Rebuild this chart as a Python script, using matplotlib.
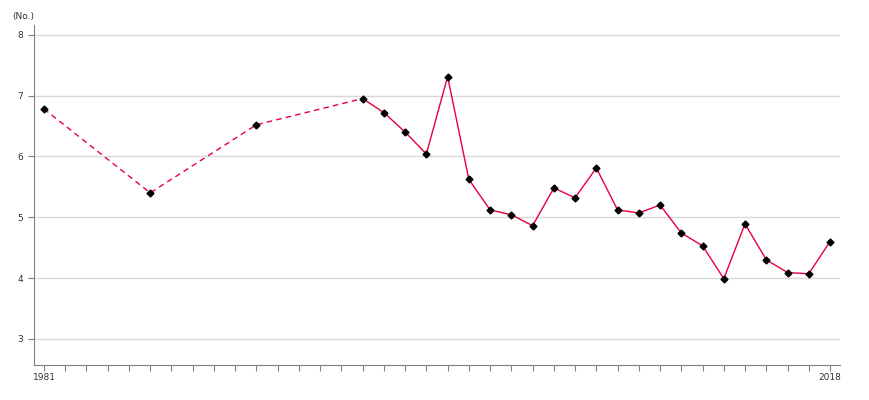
import matplotlib
matplotlib.use("Agg")
import matplotlib.pyplot as plt

years = [1981, 1986, 1991, 1996, 1997, 1998, 1999, 2000, 2001, 2002, 2003,
         2004, 2005, 2006, 2007, 2008, 2009, 2010, 2011, 2012, 2013, 2014,
         2015, 2016, 2017, 2018]
values = [6.78, 5.40, 6.52, 6.95, 6.72, 6.40, 6.04, 7.31, 5.62, 5.12, 5.04,
          4.86, 5.48, 5.32, 5.81, 5.12, 5.07, 5.20, 4.74, 4.53, 3.99, 4.89,
          4.30, 4.09, 4.07, 4.60]
# sparse early years are joined with a dashed line, annual data with a solid one
n_dashed = 4

line_colour = "#e8003a"
grid_colour = "#d9d9d9"
axis_colour = "#808080"

fig = plt.figure(figsize=(8.7, 4), dpi=100)
ax = fig.add_axes([34 / 870, 35 / 400, 806 / 870, 340 / 400])

ax.plot(years[:n_dashed], values[:n_dashed], color=line_colour, lw=1,
        ls=(0, (4, 3)), zorder=2)
ax.plot(years[n_dashed - 1:], values[n_dashed - 1:], color=line_colour, lw=1,
        zorder=2)
ax.plot(years, values, ls="none", marker="D", ms=3.5, color="black", zorder=3)

ax.set_xlim(1980.53, 2018.47)
ax.set_ylim(2.57, 8.16)
ax.set_yticks([3, 4, 5, 6, 7, 8])
ax.set_xticks(range(1981, 2019))
ax.set_xticklabels([str(y) if y in (1981, 2018) else "" for y in range(1981, 2019)])

ax.grid(axis="y", color=grid_colour, lw=1)
ax.set_axisbelow(True)
for side in ("top", "right"):
    ax.spines[side].set_visible(False)
for side in ("left", "bottom"):
    ax.spines[side].set_color(axis_colour)
ax.tick_params(axis="both", direction="out", length=4, width=0.8,
               color=axis_colour, labelsize=6.5, labelcolor="#333333")
ax.tick_params(axis="y", pad=4)
ax.tick_params(axis="x", pad=2)

fig.text(12 / 870, 1 - 17 / 400, "(No.)", fontsize=6.5, color="#333333",
         va="center", ha="left")

fig.savefig("out.png", dpi=100)
